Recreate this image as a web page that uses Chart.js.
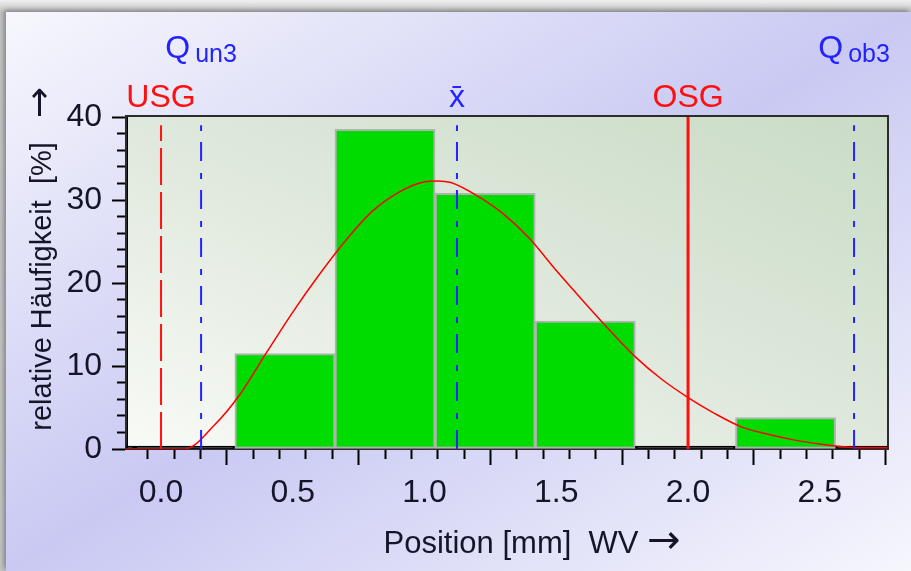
<!DOCTYPE html>
<html>
<head>
<meta charset="utf-8">
<script src="https://cdn.jsdelivr.net/npm/chart.js@4.4.0/dist/chart.umd.min.js"></script>
<style>
    /* take the arrows from DejaVu Sans (a bit larger), everything else from Liberation Sans */
    @font-face {
        font-family: 'TitleArrow';
        src: local('DejaVu Sans'), local('DejaVuSans');
        unicode-range: U+2190-21FF;
        size-adjust: 128%;
    }
    html, body { margin: 0; padding: 0; }
    body {
        width: 911px; height: 571px; position: relative; overflow: hidden;
        background: linear-gradient(to bottom, #efefef 0px, #c4c4c4 12px);
    }
    #card {
        position: absolute; left: 6px; top: 12px; right: 0; bottom: 0;
        background: linear-gradient(to bottom right, #f7f7fd 0%, #c9c9f3 50%, #f6f6fd 100%);
        box-shadow: -2px -2px 5px rgba(0, 0, 0, 0.35);
    }
    #histogram { position: absolute; left: 0; top: 0; }
</style>
</head>
<body>
<div id="card"></div>
<canvas id="histogram" width="911" height="571"></canvas>
<script>
const FONT = "'Liberation Sans', Arial, sans-serif";
const TITLE_FONT = "'TitleArrow', 'Liberation Sans', Arial, sans-serif";

// x range of the plot
const X_MIN = -0.133;
const X_MAX = 2.755;

// histogram bins (class width 0.38 mm)
const binCenters = [-0.29, 0.09, 0.47, 0.85, 1.23, 1.61, 1.99, 2.37, 2.75];
const binValues = [0, 0, 11.5, 38.5, 30.8, 15.4, 0, 3.8, 0];

// fitted distribution curve
const curveX = [-0.133, 0.0, 0.09, 0.2, 0.3, 0.4, 0.5, 0.6, 0.7, 0.8, 0.9, 1.0, 1.05, 1.1, 1.2, 1.3, 1.4,
                1.5, 1.6, 1.7, 1.8, 1.9, 2.0, 2.1, 2.2, 2.3, 2.4, 2.5, 2.58, 2.65, 2.755];
const curveY = [0, 0, 0, 2.8, 6.6, 11.6, 16.5, 21.0, 25.1, 28.6, 30.9, 32.2, 32.3, 32.1, 30.5, 28.3, 25.3,
                21.5, 17.9, 14.4, 11.1, 8.4, 6.2, 4.3, 2.7, 1.8, 1.1, 0.6, 0.3, 0.15, 0.15];

// limits and quantiles
const markerLabels = ['USG', 'Qun3', 'x\u0304', 'OSG', 'Qob3'];
const markerValues = [0.0, 0.152, 1.123, 2.0, 2.63];

const RED = '#ff1010';
const BLUE = '#2323ff';
const dashDot = [19, 11, 6, 12];

const markerStyles = {
    'USG':      { color: RED,  dash: [37, 7], width: 2, reach: 39 },
    'Qun3':     { color: BLUE, dash: dashDot, width: 2, reach: 39, subscript: true },
    'x\u0304':  { color: BLUE, dash: dashDot, width: 2, reach: 39 },
    'OSG':      { color: RED,  dash: [],      width: 3, reach: 40 },
    'Qob3':     { color: BLUE, dash: dashDot, width: 2, reach: 39, subscript: true }
};

const plotBackground = {
    id: 'plotBackground',
    beforeDraw(chart) {
        const {ctx, chartArea: a} = chart;
        const w = a.right - a.left;
        const h = a.bottom - a.top;
        const cx = a.left + w / 2;
        const cy = a.top + h / 2;
        const len = Math.hypot(w, h);
        const ux = h / len, uy = -w / len;
        const half = w * h / len;
        const g = ctx.createLinearGradient(cx - ux * half, cy - uy * half, cx + ux * half, cy + uy * half);
        g.addColorStop(0, '#f8faf6');
        g.addColorStop(0.5, '#dfe8dc');
        g.addColorStop(1, '#c9dcc6');
        ctx.save();
        ctx.fillStyle = g;
        ctx.fillRect(a.left, a.top, w, h);
        ctx.restore();
    },
    beforeDatasetsDraw(chart) {
        const {ctx, chartArea: a} = chart;
        ctx.save();
        ctx.strokeStyle = '#2c2c2c';
        ctx.lineWidth = 2;
        ctx.strokeRect(a.left, a.top - 1, a.right - a.left + 1, a.bottom - a.top + 1);
        ctx.restore();
    }
};

const markerText = {
    id: 'markerText',
    afterDraw(chart) {
        const {ctx} = chart;
        const xScale = chart.scales.x;
        ctx.save();
        ctx.textBaseline = 'alphabetic';
        markerLabels.forEach((name, i) => {
            const st = markerStyles[name];
            const px = xScale.getPixelForValue(markerValues[i]);
            ctx.fillStyle = st.color;
            if (st.subscript) {
                const main = name.slice(0, 1);
                const sub = name.slice(1);
                ctx.font = '32px ' + FONT;
                const wMain = ctx.measureText(main).width;
                ctx.font = '25px ' + FONT;
                const wSub = ctx.measureText(sub).width;
                const start = px - (wMain + 5 + wSub) / 2;
                ctx.textAlign = 'left';
                ctx.font = '32px ' + FONT;
                ctx.fillText(main, start, 58);
                ctx.font = '25px ' + FONT;
                ctx.fillText(sub, start + wMain + 5, 62);
            } else {
                ctx.font = '32px ' + FONT;
                ctx.textAlign = 'center';
                ctx.fillText(name, px, 107);
            }
        });
        ctx.restore();
    }
};

const markerDatasets = markerLabels.map((name, i) => {
    const st = markerStyles[name];
    return {
        type: 'line',
        label: name,
        data: [{x: markerValues[i], y: 0}, {x: markerValues[i], y: st.reach}],
        xAxisID: 'x',
        yAxisID: 'y',
        borderColor: st.color,
        borderWidth: st.width,
        borderDash: st.dash,
        pointRadius: 0,
        fill: false,
        order: 0
    };
});

function drawChart() {
    new Chart(document.getElementById('histogram'), {
        type: 'bar',
        data: {
            datasets: [
                ...markerDatasets,
                {
                    type: 'line',
                    label: 'Verteilung',
                    data: curveX.map((x, i) => ({x: x, y: curveY[i]})),
                    xAxisID: 'x',
                    yAxisID: 'y',
                    borderColor: '#ff0000',
                    borderWidth: 1.5,
                    pointRadius: 0,
                    cubicInterpolationMode: 'monotone',
                    fill: false,
                    order: 1
                },
                {
                    type: 'bar',
                    label: 'relative Häufigkeit',
                    data: binCenters.map((x, i) => ({x: x, y: binValues[i]})),
                    xAxisID: 'xMajor',
                    yAxisID: 'y',
                    backgroundColor: binValues.map(v => v > 0 ? '#00dc00' : '#000000'),
                    borderColor: binValues.map(v => v > 0 ? '#b2b2b2' : '#000000'),
                    borderWidth: 2,
                    borderSkipped: false,
                    grouped: false,
                    barPercentage: 1,
                    categoryPercentage: 1,
                    minBarLength: 3,
                    order: 2
                }
            ]
        },
        options: {
            responsive: false,
            animation: false,
            devicePixelRatio: 1,
            layout: { padding: { left: 0, top: 117, right: 24, bottom: 0 } },
            plugins: {
                legend: { display: false },
                tooltip: { enabled: false }
            },
            scales: {
                x: {
                    type: 'linear',
                    position: 'bottom',
                    weight: 0,
                    min: X_MIN,
                    max: X_MAX,
                    offset: false,
                    ticks: { stepSize: 0.1, includeBounds: false, display: false },
                    grid: { drawOnChartArea: false, tickLength: 10, tickWidth: 2, tickColor: '#000' },
                    border: { display: false },
                    afterFit: s => { s.height = 10; }
                },
                xMajor: {
                    type: 'linear',
                    position: 'bottom',
                    weight: 1,
                    min: X_MIN,
                    max: X_MAX,
                    offset: false,
                    ticks: {
                        stepSize: 0.5,
                        includeBounds: false,
                        autoSkip: false,
                        maxRotation: 0,
                        padding: 9,
                        color: '#15152a',
                        font: { family: FONT, size: 32 },
                        callback: v => v.toFixed(1)
                    },
                    grid: { drawOnChartArea: false, tickLength: 6, tickWidth: 2, tickColor: '#000' },
                    border: { display: false },
                    title: {
                        display: true,
                        text: '      Position [mm]  WV \u2192',
                        color: '#15152a',
                        font: { family: TITLE_FONT, size: 31 },
                        padding: { top: 0, bottom: 8 }
                    },
                    afterFit: s => { s.height = 112; }
                },
                y: {
                    type: 'linear',
                    position: 'left',
                    weight: 0,
                    min: 0,
                    max: 40,
                    ticks: { stepSize: 2, display: false },
                    grid: { drawOnChartArea: false, tickLength: 9, tickWidth: 2, tickColor: '#000' },
                    border: { display: true, color: '#000', width: 3 },
                    afterFit: s => { s.width = 9; }
                },
                yMajor: {
                    type: 'linear',
                    position: 'left',
                    weight: 1,
                    min: 0,
                    max: 40,
                    ticks: {
                        stepSize: 10,
                        padding: 10,
                        color: '#15152a',
                        font: { family: FONT, size: 32 }
                    },
                    grid: { drawOnChartArea: false, tickLength: 5, tickWidth: 2, tickColor: '#000' },
                    border: { display: false },
                    title: {
                        display: true,
                        text: '      relative Häufigkeit  [%]   \u2192',
                        color: '#15152a',
                        font: { family: TITLE_FONT, size: 29 },
                        padding: { top: 26, bottom: 0 }
                    },
                    afterFit: s => { s.width = 117; }
                }
            }
        },
        plugins: [plotBackground, markerText]
    });
}

document.fonts.load('31px TitleArrow', '\u2192').then(drawChart, drawChart);
</script>
</body>
</html>
